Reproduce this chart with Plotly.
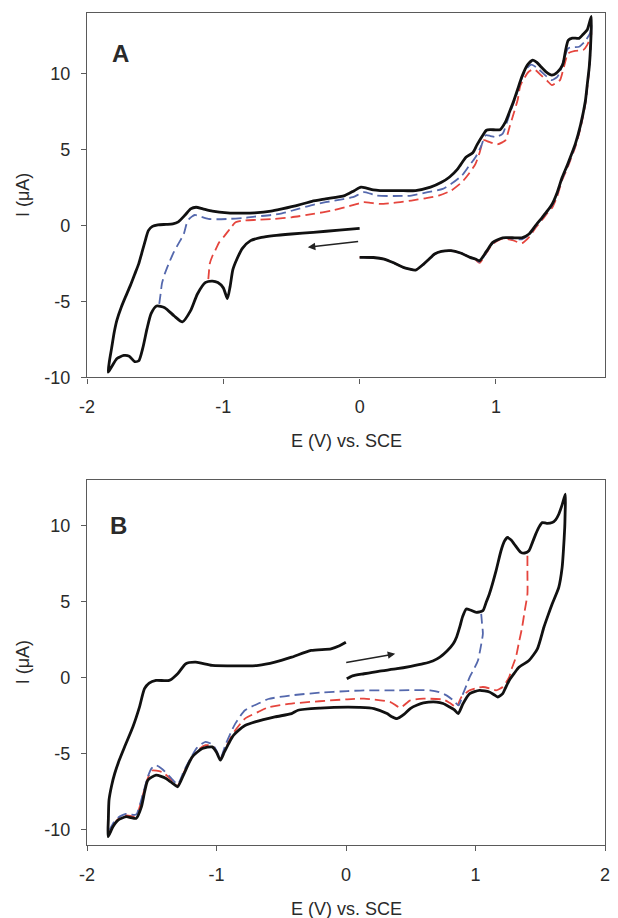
import plotly.graph_objects as go

# ---------------- Panel A data (E in V vs SCE, I in uA) ----------------
A_black_E = [0.00, -0.15, -0.34, -0.50, -0.63, -0.72, -0.80, -0.86, -0.90, -0.93, -0.95, -0.97,
             -1.00, -1.04, -1.08, -1.13, -1.19, -1.24, -1.30, -1.36, -1.43, -1.49, -1.53, -1.56,
             -1.59, -1.62, -1.65, -1.69, -1.73, -1.78, -1.82, -1.845,
             -1.835, -1.82, -1.80, -1.78, -1.75, -1.72, -1.68, -1.65, -1.62, -1.60, -1.57, -1.55,
             -1.52, -1.48, -1.42, -1.37, -1.33, -1.28, -1.24, -1.20, -1.15, -1.08, -0.97, -0.85,
             -0.77, -0.65, -0.57, -0.45, -0.35, -0.25, -0.11, -0.04, 0.01, 0.05, 0.10, 0.15,
             0.30, 0.41, 0.52, 0.60, 0.66, 0.72, 0.78, 0.83, 0.86, 0.90, 0.93, 0.96, 1.03, 1.07,
             1.10, 1.13, 1.16, 1.19, 1.23, 1.27, 1.30, 1.33, 1.37, 1.41, 1.45, 1.49, 1.51, 1.53,
             1.56, 1.61, 1.64, 1.67, 1.70,
             1.695, 1.685, 1.67, 1.656, 1.62, 1.583, 1.55, 1.52, 1.486, 1.45, 1.413, 1.38, 1.34,
             1.29, 1.243, 1.19, 1.12, 1.05, 0.977, 0.93, 0.88, 0.85, 0.81, 0.74, 0.67, 0.60, 0.55,
             0.51, 0.47, 0.41, 0.36, 0.32, 0.25, 0.18, 0.10, 0.00]
A_black_I = [-0.18, -0.30, -0.44, -0.55, -0.66, -0.78, -0.99, -1.5, -2.2, -2.9, -4.0, -4.8,
             -4.1, -3.75, -3.65, -3.74, -4.5, -5.6, -6.34, -5.95, -5.4, -5.29, -5.8, -6.8,
             -8.04, -8.9, -8.95, -8.6, -8.55, -8.75, -9.3, -9.65,
             -8.9, -8.1, -7.0, -6.2, -5.4, -4.74, -3.9, -3.2, -2.5, -1.87, -0.9, -0.33,
             -0.05, 0.05, 0.08, 0.11, 0.25, 0.7, 1.1, 1.21, 1.1, 0.95, 0.84, 0.82,
             0.84, 0.95, 1.1, 1.35, 1.6, 1.76, 1.98, 2.3, 2.53, 2.47, 2.35, 2.31,
             2.3, 2.31, 2.53, 2.85, 3.2, 3.74, 4.5, 4.8, 5.3, 5.9, 6.28, 6.32, 6.32, 6.83,
             7.5, 8.2, 9.0, 9.8, 10.57, 10.9, 10.75, 10.46, 10.1, 9.91, 10.1, 10.6, 11.5, 12.2,
             12.35, 12.33, 12.6, 12.9, 13.77,
             12.0, 10.5, 9.3, 8.2, 6.6, 5.4, 4.6, 3.9, 3.18, 2.2, 1.43, 1.0, 0.55,
             0.0, -0.55, -0.8, -0.8, -0.8, -1.1, -1.7, -2.31, -2.2, -2.09, -1.8, -1.65, -1.7, -1.87,
             -2.2, -2.53, -2.93, -2.85, -2.75, -2.45, -2.2, -2.1, -2.09]

A_blue_E = [-1.47, -1.46, -1.45, -1.43, -1.40, -1.37, -1.33, -1.29, -1.27, -1.25, -1.21, -1.17,
            -1.11, -1.04, -0.97, -0.85, -0.77, -0.65, -0.57, -0.45, -0.35, -0.25, -0.12, -0.05,
            0.03, 0.08, 0.12, 0.25, 0.38, 0.50, 0.61, 0.68, 0.75, 0.80, 0.85, 0.89, 0.925, 0.96,
            1.00, 1.05, 1.08, 1.11, 1.15, 1.18, 1.22, 1.26, 1.30, 1.36, 1.41, 1.45, 1.47, 1.50,
            1.53, 1.57, 1.61, 1.65, 1.69, 1.70,
            1.695, 1.685, 1.67, 1.656, 1.62, 1.583, 1.55, 1.52, 1.486, 1.45, 1.413, 1.38, 1.34,
            1.29, 1.243, 1.19, 1.12, 1.05, 0.977, 0.93, 0.88, 0.85, 0.81, 0.74, 0.67, 0.60, 0.55,
            0.51, 0.47, 0.41, 0.36, 0.32, 0.25, 0.18, 0.10, 0.00]
A_blue_I = [-5.15, -4.5, -3.8, -3.19, -2.5, -1.87, -1.2, -0.55, 0.1, 0.45, 0.7, 0.6,
            0.44, 0.42, 0.44, 0.5, 0.59, 0.7, 0.81, 1.1, 1.35, 1.54, 1.75, 1.87,
            2.2, 2.1, 1.98, 1.95, 1.98, 2.2, 2.42, 2.8, 3.3, 3.9, 4.5, 5.2, 5.95, 5.9,
            5.84, 6.06, 6.8, 7.6, 8.6, 9.47, 10.3, 10.6, 10.4, 9.91, 9.58, 9.8, 10.13, 11.0,
            11.67, 11.75, 11.78, 12.1, 12.67, 13.2,
            11.9, 10.4, 9.2, 8.1, 6.5, 5.3, 4.5, 3.8, 3.1, 2.1, 1.35, 0.95, 0.5,
            -0.05, -0.6, -0.9, -0.85, -0.82, -1.15, -1.75, -2.4, -2.2, -2.09, -1.8, -1.65, -1.7, -1.87,
            -2.2, -2.53, -2.93, -2.85, -2.75, -2.45, -2.2, -2.1, -2.09]

A_red_E = [-1.11, -1.105, -1.10, -1.08, -1.06, -1.03, -0.99, -0.95, -0.91, -0.86, -0.75, -0.63,
           -0.50, -0.34, -0.20, -0.11, -0.03, 0.03, 0.08, 0.15, 0.25, 0.38, 0.48, 0.58, 0.67,
           0.75, 0.80, 0.85, 0.88, 0.91, 0.95, 1.01, 1.05, 1.07, 1.10, 1.13, 1.16, 1.18, 1.24,
           1.28, 1.33, 1.38, 1.41, 1.44, 1.47, 1.50, 1.53, 1.58, 1.64, 1.67, 1.69, 1.70,
           1.695, 1.685, 1.67, 1.656, 1.62, 1.583, 1.55, 1.52, 1.486, 1.45, 1.413, 1.38, 1.34,
           1.29, 1.243, 1.19, 1.12, 1.05, 0.977, 0.93, 0.88, 0.85, 0.81, 0.74, 0.67, 0.60, 0.55,
           0.51, 0.47, 0.41, 0.36, 0.32, 0.25, 0.18, 0.10, 0.00]
A_red_I = [-3.52, -3.0, -2.53, -2.0, -1.65, -1.1, -0.66, -0.2, 0.22, 0.33, 0.38, 0.44,
           0.55, 0.77, 1.0, 1.21, 1.4, 1.54, 1.5, 1.43, 1.5, 1.65, 1.8, 1.98, 2.3,
           2.86, 3.4, 4.07, 4.8, 5.62, 5.51, 5.35, 5.5, 5.62, 6.5, 7.38, 8.3, 9.25, 10.13,
           10.3, 9.91, 9.5, 9.25, 9.4, 9.58, 10.5, 11.34, 11.5, 11.56, 11.9, 12.33, 12.8,
           11.8, 10.3, 9.1, 8.0, 6.4, 5.2, 4.4, 3.7, 3.0, 1.95, 1.2, 0.85, 0.4,
           -0.15, -0.75, -1.15, -0.95, -0.85, -1.2, -1.8, -2.45, -2.25, -2.09, -1.8, -1.65, -1.7, -1.87,
           -2.2, -2.53, -2.93, -2.85, -2.75, -2.45, -2.2, -2.1, -2.09]

# ---------------- Panel B data ----------------
B_black_E = [0.006, 0.05, 0.139, 0.25, 0.394, 0.50, 0.598, 0.67, 0.725, 0.78, 0.828, 0.855, 0.878,
             0.90, 0.929, 0.96, 1.006, 1.057, 1.08, 1.107, 1.159, 1.197, 1.225, 1.248, 1.275,
             1.299, 1.35, 1.38, 1.413, 1.44, 1.465, 1.49, 1.516, 1.55, 1.592, 1.62, 1.643, 1.67, 1.694,
             1.692, 1.689, 1.68, 1.669, 1.643, 1.592, 1.56, 1.528, 1.478, 1.413, 1.337, 1.30, 1.26,
             1.23, 1.21, 1.172, 1.14, 1.107, 1.031, 0.955, 0.904, 0.866, 0.835, 0.801, 0.75, 0.70,
             0.598, 0.55, 0.496, 0.45, 0.394, 0.35, 0.317, 0.216, 0.10, 0.011, -0.20, -0.371, -0.42,
             -0.549, -0.702, -0.78, -0.83, -0.87, -0.906, -0.94, -0.97, -1.00, -1.034, -1.11, -1.187,
             -1.25, -1.30, -1.33, -1.39, -1.467, -1.53, -1.555, -1.58, -1.62, -1.66, -1.696, -1.76,
             -1.80, -1.837,
             -1.835, -1.83, -1.81, -1.786, -1.75, -1.71, -1.646, -1.595, -1.556, -1.52, -1.467,
             -1.365, -1.30, -1.237, -1.16, -1.034, -0.85, -0.677, -0.549, -0.42, -0.269, -0.116,
             -0.05, -0.001]
B_black_I = [-0.07, 0.12, 0.26, 0.42, 0.59, 0.75, 0.92, 1.1, 1.35, 1.75, 2.23, 2.7, 3.32,
             4.0, 4.52, 4.45, 4.3, 4.41, 4.9, 5.5, 7.04, 8.35, 9.0, 9.22, 9.05,
             8.79, 8.24, 8.2, 8.35, 8.9, 9.44, 9.9, 10.2, 10.15, 10.2, 10.4, 10.75, 11.4, 12.07,
             10.8, 9.88, 8.5, 7.25, 5.94, 4.85, 4.1, 3.32, 1.9, 1.13, 0.7, 0.3, -0.18,
             -0.7, -1.05, -1.27, -1.1, -0.94, -0.83, -1.05, -1.7, -2.36, -2.1, -1.93, -1.7, -1.6,
             -1.66, -1.8, -2.03, -2.4, -2.69, -2.55, -2.36, -2.03, -1.95, -1.93, -2.0, -2.14, -2.36,
             -2.58, -2.91, -3.15, -3.46, -3.8, -4.33, -4.9, -5.42, -4.9, -4.55, -4.66, -5.2,
             -6.3, -7.17, -7.0, -6.62, -6.41, -6.73, -7.5, -8.49, -9.25, -9.2, -9.14, -9.36,
             -9.8, -10.45,
             -9.3, -8.05, -7.1, -6.3, -5.4, -4.55, -3.24, -1.93, -0.72, -0.35, -0.18,
             -0.18, 0.26, 0.92, 1.02, 0.81, 0.78, 0.81, 1.02, 1.35, 1.79, 1.9,
             2.1, 2.33]

B_blue_E = [1.044, 1.05, 1.057, 1.04, 1.019, 0.99, 0.955, 0.93, 0.904, 0.87, 0.83, 0.776, 0.72,
            0.649, 0.40, 0.139, 0.011, -0.20, -0.42, -0.60, -0.677, -0.78, -0.855, -0.893, -0.93,
            -0.97, -1.00, -1.03, -1.085, -1.15, -1.20, -1.25, -1.30, -1.35, -1.42, -1.467, -1.50,
            -1.53, -1.56, -1.59, -1.62, -1.66, -1.70, -1.76, -1.80, -1.837]
B_blue_I = [4.2, 3.6, 2.89, 2.0, 1.13, 0.6, 0.04, -0.5, -1.05, -1.82, -1.5, -1.16, -0.95,
            -0.83, -0.83, -0.83, -0.88, -0.98, -1.16, -1.4, -1.7, -2.14, -3.02, -3.67, -4.4,
            -5.3, -4.8, -4.4, -4.22, -4.6, -5.3, -6.1, -7.0, -6.6, -6.0, -5.76, -5.95,
            -6.5, -7.4, -8.3, -9.0, -9.0, -8.95, -9.2, -9.6, -10.2]

B_red_E = [1.401, 1.401, 1.401, 1.38, 1.36, 1.335, 1.312, 1.28, 1.26, 1.21, 1.159, 1.11, 1.057,
           1.00, 0.955, 0.891, 0.853, 0.80, 0.751, 0.598, 0.496, 0.419, 0.343, 0.139, 0.011,
           -0.42, -0.60, -0.677, -0.78, -0.855, -0.90, -0.94, -0.97, -1.00, -1.03, -1.085, -1.15,
           -1.20, -1.25, -1.30, -1.35, -1.42, -1.50, -1.53, -1.56, -1.59, -1.62, -1.70, -1.76, -1.837]
B_red_I = [8.02, 6.8, 5.5, 4.4, 3.32, 2.3, 1.35, 0.6, 0.04, -0.61, -0.83, -0.7, -0.61,
           -0.7, -0.83, -1.27, -1.93, -1.65, -1.44, -1.38, -1.49, -1.97, -1.6, -1.38, -1.42,
           -1.7, -1.95, -2.25, -2.69, -3.46, -4.1, -4.8, -5.35, -4.85, -4.5, -4.44, -4.8,
           -5.4, -6.2, -7.1, -6.7, -6.2, -6.1, -6.6, -7.45, -8.4, -9.1, -9.05, -9.3, -10.3]

# scan-direction arrows [tail, head]
A_arrow_E = [0.0, -0.38]
A_arrow_I = [-1.03, -1.43]
B_arrow_E = [-0.01, 0.38]
B_arrow_I = [0.98, 1.57]

# tick labels
A_xticks = [-2, -1, 0, 1]
A_xticktext = ["-2", "-1", "0", "1"]
B_xticks = [-2, -1, 0, 1, 2]
B_xticktext = ["-2", "-1", "0", "1", "2"]
yticks = [-10, -5, 0, 5, 10]
yticktext = ["-10", "-5", "0", "5", "10"]

panel_labels = ["A", "B"]
x_title = "E (V) vs. SCE"
y_title = "I (\u03bcA)"

BLACK = "#111111"
BLUE = "#5468ad"
RED = "#e5453d"
AX = "#5a5a5a"
TXT = "#2a2a2a"
FONT = "Liberation Sans, Arial, sans-serif"
DASH = "10px,5px"

fig = go.Figure()


def add(E, I, color, width, dash, xa, ya):
    fig.add_trace(go.Scatter(x=E, y=I, mode="lines", xaxis=xa, yaxis=ya,
                             line=dict(color=color, width=width, dash=dash, shape="spline",
                                       smoothing=0.6),
                             showlegend=False, hoverinfo="skip"))


add(A_red_E, A_red_I, RED, 1.8, DASH, "x", "y")
add(A_blue_E, A_blue_I, BLUE, 1.8, DASH, "x", "y")
add(A_black_E, A_black_I, BLACK, 2.8, "solid", "x", "y")
add(B_red_E, B_red_I, RED, 1.8, DASH, "x2", "y2")
add(B_blue_E, B_blue_I, BLUE, 1.8, DASH, "x2", "y2")
add(B_black_E, B_black_I, BLACK, 2.8, "solid", "x2", "y2")

axis_common = dict(showline=True, linecolor=AX, linewidth=1.4, mirror=True,
                   ticks="outside", ticklen=5, tickwidth=1.2, tickcolor=AX,
                   showgrid=False, zeroline=False,
                   tickfont=dict(family=FONT, size=18, color=TXT))

fig.update_layout(
    width=618, height=918,
    margin=dict(l=87, r=8, t=13, b=73),
    plot_bgcolor="white", paper_bgcolor="white",
    xaxis=dict(range=[-2, 1.8], domain=[0, 1], anchor="y", tickvals=A_xticks,
               ticktext=A_xticktext, ticklabelstandoff=8, **axis_common),
    yaxis=dict(range=[-10, 14], domain=[0.5619, 1.0], anchor="x", tickvals=yticks,
               ticktext=yticktext, ticklabelstandoff=7, **axis_common),
    xaxis2=dict(range=[-2, 2], domain=[0, 1], anchor="y2", tickvals=B_xticks,
                ticktext=B_xticktext, ticklabelstandoff=8, **axis_common),
    yaxis2=dict(range=[-11, 13], domain=[0, 0.4387], anchor="x2", tickvals=yticks,
                ticktext=yticktext, ticklabelstandoff=7, **axis_common),
)

ann = []
for xs, ys, lab, lx, ly in [("x", "y", panel_labels[0], 0.065, 0.888),
                            ("x2", "y2", panel_labels[1], 0.06, 0.875)]:
    ann.append(dict(text="<b>%s</b>" % lab, xref=xs + " domain", yref=ys + " domain",
                    x=lx, y=ly, xanchor="center", yanchor="middle", showarrow=False,
                    font=dict(family=FONT, size=24, color=TXT)))
    ann.append(dict(text=x_title, xref=xs + " domain", yref=ys + " domain",
                    x=0.5, y=-0.174, xanchor="center", yanchor="middle", showarrow=False,
                    font=dict(family=FONT, size=18, color=TXT)))
    ann.append(dict(text=y_title, xref="paper", yref=ys + " domain",
                    x=-0.124, y=0.5, xanchor="center", yanchor="middle", showarrow=False,
                    textangle=-90, font=dict(family=FONT, size=18, color=TXT)))

ann.append(dict(x=A_arrow_E[1], y=A_arrow_I[1], ax=A_arrow_E[0], ay=A_arrow_I[0],
                xref="x", yref="y", axref="x", ayref="y", text="", showarrow=True,
                arrowhead=2, arrowsize=1, arrowwidth=1.5, arrowcolor="#222222"))
ann.append(dict(x=B_arrow_E[1], y=B_arrow_I[1], ax=B_arrow_E[0], ay=B_arrow_I[0],
                xref="x2", yref="y2", axref="x2", ayref="y2", text="", showarrow=True,
                arrowhead=2, arrowsize=1, arrowwidth=1.5, arrowcolor="#222222"))
fig.update_layout(annotations=ann)

fig.write_html("out.html")
